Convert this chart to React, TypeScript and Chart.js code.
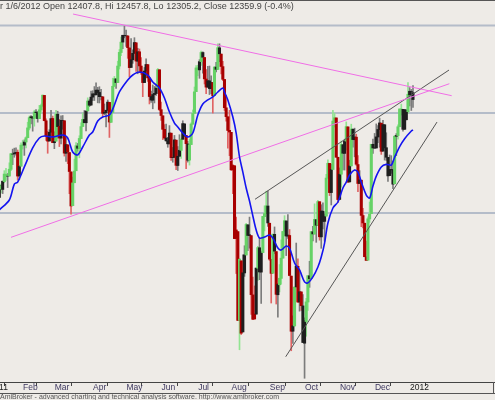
import React, { useEffect, useRef } from "react";
import { Chart, registerables } from "chart.js";
Chart.register(...registerables);

// bar index 0 = first trading day of Jan 2011; data starts at FIRST_INDEX (Jan 10, 2011)
const FIRST_INDEX = 5;

const opens = [
  11674,11638,11673,11754,11729,11784,11835,11822,11823,11870,11977,11979,11985,11990,11824,
  11892,12039,12040,12062,12092,12160,12232,12238,12227,12272,12267,12226,12287,12318,12389,12211,12105,12069,12131,
  12227,12057,12068,12257,12171,12089,12213,12211,11983,12042,11988,11852,11615,11776,11860,12034,12016,12086,12171,12220,12197,12280,12349,
  12321,12377,12399,12393,12426,12410,12381,12379,12264,12268,12285,12340,12200,12269,12453,12505,12479,12595,12690,12763,
  12810,12806,12806,12722,12585,12639,12684,12758,12629,12695,12595,12546,12479,12560,12605,12511,12381,12355,12395,12402,12443,
  12569,12289,12246,12151,12090,12069,12049,12124,11952,11954,12075,11897,11962,12003,12081,12189,12109,12048,11935,12044,12187,12263,
  12415,12581,12568,12626,12690,12655,12504,12447,12491,12437,12479,12387,12588,12571,12723,12679,12591,12501,12302,12239,
  12144,12130,11866,11895,11386,11433,10810,11228,10729,11143,11269,11481,11405,11405,10989,10820,10854,11176,11320,11149,11286,11538,11559,
  11613,11492,11238,11141,11414,11293,10990,11060,11105,11247,11434,11508,11402,11406,11121,10734,10771,11045,11190,10939,11010,
  10912,10650,10802,10939,11123,11104,11432,11416,11517,11479,11643,11396,11576,11505,11542,11808,11912,11707,11869,12208,12231,
  11955,11659,11836,12043,11982,12068,12168,11782,11894,12152,12078,12096,11904,11771,11794,11546,11492,11256,11233,11522,11559,
  12046,12021,12020,12097,12149,12194,11998,12183,12022,11954,11826,11870,11867,11769,12102,12107,12169,12293,12291,12151,12287,
  12275,12392,12413,12407.8,
];
const highs = [
  11677,11729,11766,11767,11788,11861,11877,11841,11916,11983,12012,12019,12021,12006,11898,
  12057,12075,12077,12098,12201,12245,12248,12242,12285,12290,12276,12319,12328,12391,12389,12225,12137,12148,12285,
  12244,12134,12284,12278,12221,12246,12248,12211,12089,12042,11988,11852,11816,11942,12058,12052,12106,12197,12266,12283,12280,12372,12359,
  12419,12422,12451,12477,12446,12450,12431,12379,12329,12285,12357,12340,12287,12510,12522,12505,12629,12711,12798,12811,
  12876,12848,12808,12722,12787,12709,12794,12760,12720,12715,12654,12546,12585,12645,12605,12511,12420,12462,12452,12468,12578,
  12569,12342,12246,12184,12187,12095,12177,12124,12024,12108,12075,12030,12113,12089,12211,12189,12109,12067,12081,12196,12287,12448,
  12599,12601,12640,12700,12695,12655,12571,12593,12595,12527,12479,12590,12621,12751,12751,12679,12628,12501,12390,12239,
  12285,12130,11904,11895,11535,11433,11244,11228,11270,11334,11491,11481,11535,11405,11114,11052,11178,11330,11388,11296,11540,11614,11717,
  11717,11492,11238,11415,11466,11293,11071,11202,11375,11436,11545,11508,11553,11448,11121,10842,11044,11353,11242,11160,11010,
  10992,10828,10965,11123,11225,11434,11470,11628,11517,11653,11643,11622,11636,11557,11835,11937,11912,11907,12284,12264,12231,
  11955,11880,12069,12043,12082,12203,12168,11934,12187,12152,12159,12117,11967,11861,11794,11597,11492,11367,11537,11641,12046,
  12082,12122,12189,12178,12229,12194,12214,12183,12127,11954,11971,11966,11928,12104,12121,12182,12294,12328,12292,12290,12287,
  12479,12444,12431,12457.8,
];
const lows = [
  11582,11638,11673,11704,11700,11776,11792,11742,11823,11860,11903,11955,11970,11795,11797,
  11892,12012,11968,12021,12092,12147,12189,12138,12173,12234,12201,12226,12265,12309,12210,12073,11983,12069,12131,
  12057,12015,12068,12089,12030,12048,12151,11963,11925,11910,11699,11555,11615,11776,11860,11997,11951,12086,12170,12196,12139,12280,12310,
  12321,12353,12353,12393,12337,12336,12357,12239,12254,12168,12285,12094,12200,12269,12453,12438,12479,12574,12667,12717,
  12793,12732,12649,12519,12585,12614,12684,12558,12541,12551,12536,12380,12479,12535,12487,12329,12339,12295,12336,12389,12443,
  12282,12213,12079,12082,12067,12025,12049,11932,11920,11954,11867,11862,11962,11946,12081,12099,11874,11921,11900,12044,12187,12263,
  12415,12527,12509,12600,12545,12469,12402,12447,12395,12401,12265,12387,12553,12571,12625,12540,12493,12283,12208,12019,
  11966,11862,11700,11383,11139,10809,10604,10711,10729,11119,11269,11299,11317,10852,10815,10820,10854,11091,11096,10929,11286,11438,11559,
  11469,11231,10932,11141,11278,10925,10832,11010,11064,11247,11405,11265,11386,11123,10597,10648,10771,11045,10936,10875,10880,
  10653,10404,10699,10880,11042,11104,11367,11416,11358,11479,11373,11316,11452,11366,11542,11808,11686,11620,11869,12167,11955,
  11636,11659,11745,11866,11865,12006,11780,11782,11894,12025,11958,11898,11714,11770,11468,11459,11257,11231,11233,11498,11559,
  11982,12018,12020,12058,12025,11975,11998,11935,11933,11786,11826,11842,11735,11769,11966,12081,12169,12251,12138,12151,12217,
  12262,12315,12283,12305.2,
];
const closes = [
  11637,11671,11755,11732,11787,11837,11825,11822,11871,11980,11977,11985,11989,11823,11891,
  12040,12041,12062,12092,12161,12233,12239,12229,12273,12268,12226,12288,12318,12391,12212,12105,12068,12130,12226,
  12058,12066,12258,12170,12090,12214,12214,11984,12044,11993,11855,11613,11775,11858,12036,12018,12087,12170,12221,12198,12279,12350,12320,
  12377,12400,12393,12426,12409,12380,12381,12263,12270,12285,12342,12202,12267,12453,12506,12479,12595,12691,12763,12811,
  12808,12807,12724,12584,12639,12684,12760,12630,12695,12596,12548,12479,12560,12606,12512,12381,12356,12395,12403,12441,12570,
  12290,12248,12151,12090,12070,12049,12125,11952,11953,12077,11898,11962,12004,12081,12191,12110,12050,11934,12043,12188,12262,12414,
  12582,12569,12626,12690,12657,12505,12447,12492,12437,12480,12386,12588,12572,12724,12681,12592,12502,12303,12240,12143,
  12132,11867,11897,11384,11445,10810,11240,10720,11144,11270,11483,11406,11411,10991,10818,10855,11177,11321,11150,11285,11540,11560,11614,
  11494,11240,11140,11415,11296,10993,11062,11106,11247,11434,11510,11402,11409,11125,10734,10772,11044,11191,10939,11011,10913,
  10655,10809,10940,11124,11103,11433,11417,11519,11478,11644,11397,11578,11505,11542,11809,11913,11707,11869,12209,12232,11955,
  11658,11836,12044,11983,12069,12170,11780,11894,12153,12079,12097,11906,11771,11796,11547,11494,11257,11231,11523,11556,12046,
  12020,12019,12098,12150,12196,11997,12184,12021,11955,11824,11869,11866,11766,12103,12108,12169,12294,12292,12151,12288,12218,
  12397,12418,12416,12359.9,
];
// impulse colour per bar: g = green, r = red, k = black
const barColorCodes = [
  "kgkgkggkggkkkrk",
  "ggkgggkkgkkgggrrrkk",
  "rkgkrkkrkrrrgggkgggkkgk",
  "kkkkkkkrkkkrgggkgggk",
  "kkrrkkkrkrrrkkrrkkkkg",
  "rrrrkkkrkkrkkgkkrkgggg",
  "ggkgkrrkkkrgkgkrrrrr",
  "rrrrrrgrkkgkkrrrkgkkggg",
  "krrgkrkggggkkrrkgkrkr",
  "kkggkgkgkgrkkkggrkggr",
  "rkgkkgrkgkkrrkrrrrggg",
  "kkkkkrkkkkkkkgkgggkkk",
  "gkkk",
].join("");

// 20-bar moving average (bar index, value)
const maIndex = [7,13,16,18,22,27,31,34,39,45,48,51,54,57,61,63,66,69,73,76,79,84,87,91,96,99,103,106,109,112,114,117,120,123,126,129,132,135,138,141,142,144,147,149,151,153,155,157,159,161,163,166,169,171,174,176,179,181,184,187,190,192,195,198,200,202,204,207,210,213,215,217,220,222,224,227,229,231,233,236,239,242,244,247,250,254,255];
const maValues = [11585,11655,11767,11781,11887,12020,12090,12104,12097,12111,12090,11992,11971,12027,12111,12132,12209,12237,12251,12322,12413,12497,12532,12553,12532,12483,12441,12371,12272,12195,12167,12125,12097,12125,12251,12329,12357,12378,12413,12441,12413,12357,12237,12125,11957,11851,11739,11648,11543,11444,11388,11395,11409,11388,11318,11304,11332,11318,11213,11164,11080,11073,11115,11185,11255,11353,11494,11599,11641,11739,11781,11830,11865,11851,11781,11690,11669,11753,11823,11887,11905,11900,11955,12030,12085,12139,12146];

const tickIndex = [0,20,39,62,82,103,125,145,168,189,210,231,252];
const tickLabels = ["2011","Feb","Mar","Apr","May","Jun","Jul","Aug","Sep","Oct","Nov","Dec","2012"];

const levelValues = [12880, 12265, 11564];
const resistanceLine = [{ x: 51.2, y: 12960 }, { x: 278.2, y: 12387 }];
const supportLine = [{ x: 14.0, y: 11393 }, { x: 276.8, y: 12471 }];
const channelUpper = [{ x: 160.3, y: 11660 }, { x: 276.6, y: 12567 }];
const channelLower = [{ x: 178.7, y: 10555 }, { x: 269.4, y: 12202 }];

const X_MIN = -16.57;
const X_MAX = 304.17;
const Y_MIN = 10377.8;
const Y_MAX = 13058.5;

const FONT = "'Liberation Sans', Arial, sans-serif";
const BODY = { g: "#66d266", r: "#a80000", k: "#1e1e1e" } as Record<string, string>;
const WICK = { g: "#92e492", r: "#e06464", k: "#7c7c7c" } as Record<string, string>;

export default function App() {
  const ref = useRef<HTMLCanvasElement | null>(null);
  useEffect(() => {
    if (!ref.current) return;
    const wicks: any[] = [];
    const bodies: any[] = [];
    const wickCol: string[] = [];
    const bodyCol: string[] = [];
    closes.forEach((c, k) => {
      const i = FIRST_INDEX + k;
      const o = opens[k];
      wicks.push({ x: i, y: [lows[k], highs[k]] });
      bodies.push({ x: i, y: [Math.min(o, c), Math.max(o, c)] });
      const code = barColorCodes[k] || "k";
      wickCol.push(WICK[code]);
      bodyCol.push(BODY[code]);
    });
    const ma = maIndex.map((x, k) => ({ x, y: maValues[k] }));
    const levelSets = levelValues.map((v) => ({
      type: "line",
      data: [{ x: X_MIN, y: v }, { x: X_MAX, y: v }],
      borderColor: "#b4bcc9",
      borderWidth: 2,
      pointRadius: 0,
      order: 5,
    }));
    const trend = (d: any, color: string, order: number) => ({
      type: "line",
      data: d,
      borderColor: color,
      borderWidth: 1,
      pointRadius: 0,
      tension: 0,
      order,
    });
    const chart = new Chart(ref.current, {
      type: "bar",
      data: {
        datasets: [
          ...levelSets,
          { type: "bar", data: wicks, backgroundColor: wickCol, barThickness: 1, grouped: false, order: 4 },
          { type: "bar", data: bodies, backgroundColor: bodyCol, barThickness: 2.4, grouped: false, order: 3 },
          trend(resistanceLine, "#f06ee6", 2),
          trend(supportLine, "#f06ee6", 2),
          trend(channelUpper, "#555555", 2),
          trend(channelLower, "#555555", 2),
          {
            type: "line",
            data: ma,
            borderColor: "#1414f0",
            borderWidth: 1.6,
            pointRadius: 0,
            tension: 0.3,
            order: 1,
          },
        ] as any,
      },
      options: {
        animation: false,
        responsive: false,
        devicePixelRatio: 1,
        layout: { padding: { left: 0, right: 0, top: 0, bottom: 7 } },
        plugins: { legend: { display: false }, tooltip: { enabled: false }, title: { display: false } },
        scales: {
          x: {
            type: "linear",
            min: X_MIN,
            max: X_MAX,
            bounds: "data",
            offset: false,
            afterBuildTicks: (s: any) => {
              s.ticks = tickIndex.map((v) => ({ value: v }));
            },
            afterFit: (s: any) => {
              s.height = 11;
            },
            ticks: {
              autoSkip: false,
              maxRotation: 0,
              minRotation: 0,
              align: "start",
              padding: -3,
              labelOffset: 2,
              font: { family: FONT, size: 8.5 },
              color: (ctx: any) =>
                ctx.index === 0 || ctx.index === tickLabels.length - 1 ? "#1a1a1a" : "#3e3860",
              callback: (_v: any, i: number) => tickLabels[i],
            },
            grid: { display: true, drawOnChartArea: false, drawTicks: true, tickLength: 4, color: "#444", lineWidth: 1 },
            border: { display: true, color: "#444", width: 1 },
          },
          y: {
            type: "linear",
            display: false,
            min: Y_MIN,
            max: Y_MAX,
            bounds: "data",
          },
        },
      } as any,
    });
    return () => chart.destroy();
  }, []);

  return (
    <div style={{ position: "absolute", left: 0, top: 0, width: 495, height: 400, overflow: "hidden", background: "#eeebe7" }}>
      <canvas ref={ref} width={535} height={400} style={{ position: "absolute", left: -40, top: 0, width: 535, height: 400 }} />
      <div style={{ position: "absolute", left: 0, top: 0, width: 495, height: 1, background: "#555" }} />
      <div style={{ position: "absolute", left: 0, top: 1, whiteSpace: "nowrap", fontFamily: FONT, fontSize: 9, lineHeight: "11px", color: "#444" }}>
        r 1/6/2012 Open 12407.8, Hi 12457.8, Lo 12305.2, Close 12359.9 (-0.4%)
      </div>
      <div style={{ position: "absolute", left: 0, top: 393, width: 495, height: 1, background: "#555" }} />
      <div style={{ position: "absolute", left: 493, top: 382, width: 1, height: 11, background: "#555" }} />
      <div style={{ position: "absolute", left: 0, top: 393, whiteSpace: "nowrap", fontFamily: FONT, fontSize: 7, lineHeight: "8px", color: "#555" }}>
        AmiBroker - advanced charting and technical analysis software. http://www.amibroker.com
      </div>
    </div>
  );
}
